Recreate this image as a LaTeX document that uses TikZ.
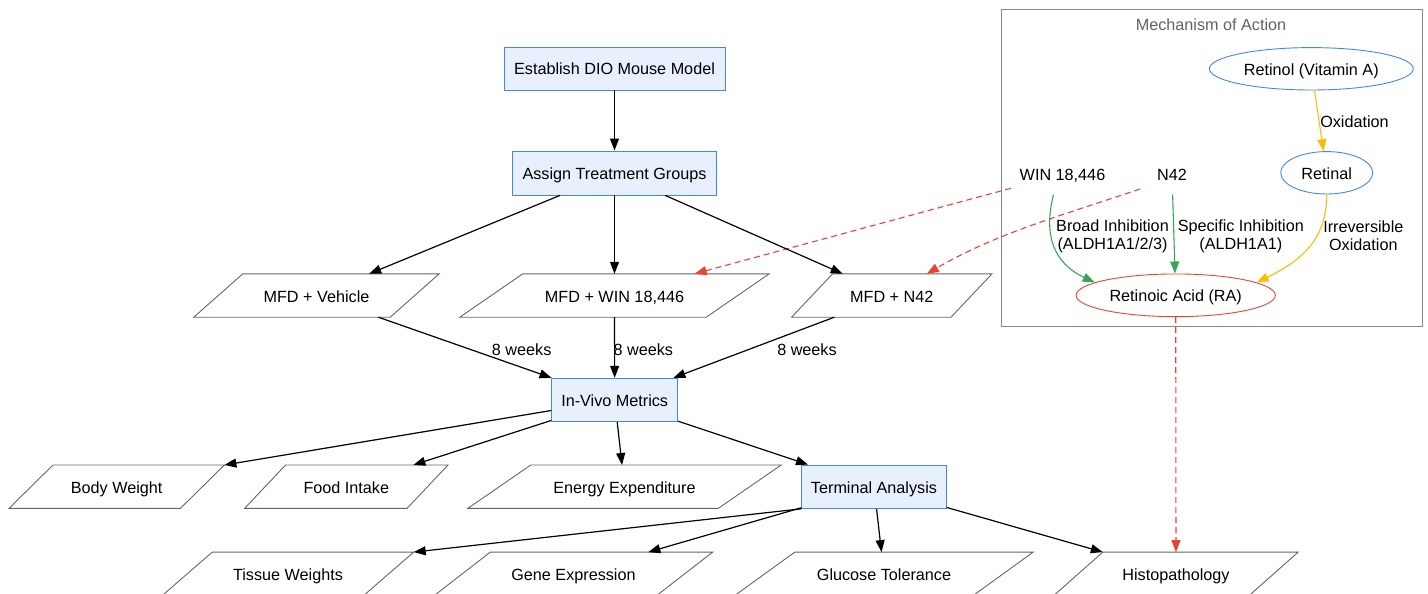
\documentclass[tikz,border=0pt]{standalone}
\usepackage{fontspec}
\setmainfont{Liberation Sans}
\usetikzlibrary{arrows.meta,shapes.geometric,calc}
\definecolor{gblue}{HTML}{4285F4}
\definecolor{gfill}{HTML}{E8F0FE}
\definecolor{gred}{HTML}{EA4335}
\definecolor{ggreen}{HTML}{34A853}
\definecolor{gorange}{HTML}{FBBC04}
\definecolor{pgray}{HTML}{666666}
\definecolor{cgray}{HTML}{888888}
\definecolor{tgray}{HTML}{5F6368}
\newcommand\pgram[6]{%
  \node[ptext, minimum width=#4pt-#5pt, minimum height=43pt] (#1) at (#2,#3) {#6};
  \coordinate (#1-tl) at ($(#1.north west)+(#5/2,0)$);
  \coordinate (#1-tr) at ($(#1.north east)+(#5/2,0)$);
  \coordinate (#1-br) at ($(#1.south east)+(-#5/2,0)$);
  \coordinate (#1-bl) at ($(#1.south west)+(-#5/2,0)$);
  \draw[pline] (#1-tl) -- (#1-tr) -- (#1-br) -- (#1-bl) -- cycle;
}
\begin{document}
\begin{tikzpicture}[x=1pt,y=-1pt,
  every node/.style={font=\fontsize{16.2}{18.3}\selectfont, text=black},
  oneline/.style={text height=16.5pt, text depth=3.5pt},
  box/.style={oneline, draw=gblue, fill=gfill, line width=0.9pt, inner sep=0pt},
  ptext/.style={oneline, inner sep=0pt},
  pline/.style={draw=pgray, line width=0.9pt},
  plain/.style={oneline, inner sep=0pt, minimum height=40pt},
  ell/.style={oneline, ellipse, draw=gblue, line width=0.9pt, inner sep=0pt},
  lbl/.style={inner sep=0pt, align=center},
  tip/.style={-{Triangle[length=12pt,width=9pt]}},
  arr/.style={tip, line width=1.2pt, black},
  rdash/.style={tip, line width=1.1pt, gred, dash pattern=on 6pt off 4pt},
  garr/.style={tip, line width=1.1pt, ggreen},
  oarr/.style={tip, line width=1.1pt, gorange},
]
\useasboundingbox (0,0) rectangle (1428,594);

% main flow boxes
\node[box, minimum width=221pt, minimum height=43pt] (est) at (614.5,68.5) {Establish DIO Mouse Model};
\node[box, minimum width=204pt, minimum height=44pt] (asg) at (614.5,173) {Assign Treatment Groups};
\node[box, minimum width=126pt, minimum height=43.4pt] (iv) at (614.7,400) {In-Vivo Metrics};
\node[box, minimum width=144.3pt, minimum height=43.3pt] (ta) at (874,486.7) {Terminal Analysis};

% parallelograms
\pgram{veh}{316.5}{295.5}{245}{49}{MFD + Vehicle}
\pgram{mwin}{614.5}{295.5}{309}{63}{MFD + WIN 18,446}
\pgram{mn42}{891.8}{295.5}{200}{41}{MFD + N42}
\pgram{bw}{116.7}{486.7}{215}{44}{Body Weight}
\pgram{fi}{346.3}{486.7}{203}{41}{Food Intake}
\pgram{ee}{624.5}{486.7}{313}{63}{Energy Expenditure}
\pgram{tw}{288}{573.8}{251}{50}{Tissue Weights}
\pgram{ge}{573.5}{573.8}{278}{56}{Gene Expression}
\pgram{gt}{884}{573.8}{298}{60}{Glucose Tolerance}
\pgram{hp}{1176}{573.8}{244}{49}{Histopathology}

% mechanism cluster
\node[draw=cgray, line width=1pt, inner sep=0pt, minimum width=420.7pt, minimum height=316.7pt] (mech) at (1211.65,168.35) {};
\node[lbl, text=tgray] (mtitle) at (1211,24.3) {Mechanism of Action};
\node[ell, minimum width=204pt, minimum height=42.4pt] (retinol) at (1311.3,68.8) {Retinol (Vitamin A)};
\node[ell, minimum width=92pt, minimum height=42.4pt] (retinal) at (1326.7,172.8) {Retinal};
\node[ell, draw=gred, minimum width=199.3pt, minimum height=42.7pt] (ra) at (1175.7,295.3) {Retinoic Acid (RA)};
\node[plain, minimum width=103pt] (win) at (1062.5,174.3) {WIN 18,446};
\node[plain, minimum width=64pt] (n42) at (1172,174.3) {N42};

% mechanism edges
\draw[oarr] (retinol) -- (retinal);
\node[lbl] (oxl) at (1354.5,121.3) {Oxidation};
\draw[oarr] (retinal.south) .. controls +(0,45) and +(45,-22) .. (ra.9);
\node[lbl] (irl) at (1363.3,236) {Irreversible\\Oxidation};
\draw[garr] ($(win.south)+(-9,0)$) .. controls +(-10,40) and +(-42,-20) .. (ra.171);
\node[lbl] (bil) at (1112.5,236) {Broad Inhibition\\(ALDH1A1/2/3)};
\draw[garr] (n42) -- (ra);
\node[lbl] (sil) at (1240.8,236) {Specific Inhibition\\(ALDH1A1)};

% red dashed links
\draw[rdash] (win) -- (mwin);
\draw[rdash] ($(n42.center)+(-32,14.7)$) .. controls +(-80,27) and +(70,-40.6) .. ($(mn42.north)+(35,0)$);
\draw[rdash] (ra) -- (hp);

% main flow edges
\draw[arr] (est) -- (asg);
\draw[arr] (asg) -- (veh);
\draw[arr] (asg) -- (mwin);
\draw[arr] (asg) -- (mn42);
\draw[arr] (veh) -- (iv);
\draw[arr] (mwin) -- (iv);
\draw[arr] (mn42) -- (iv);
\node[lbl] (w1) at (521.7,349.3) {8 weeks};
\node[lbl] (w2) at (643.3,349.3) {8 weeks};
\node[lbl] (w3) at (807,349.3) {8 weeks};
\draw[arr] (iv) -- (bw-tr);
\draw[arr] (iv) -- (fi);
\draw[arr] (iv) -- (ee);
\draw[arr] (iv) -- (ta);
\draw[arr] (ta.south west) -- (tw-tr);
\draw[arr] (ta) -- (ge);
\draw[arr] (ta) -- (gt);
\draw[arr] (ta) -- (hp-tl);
\end{tikzpicture}
\end{document}
